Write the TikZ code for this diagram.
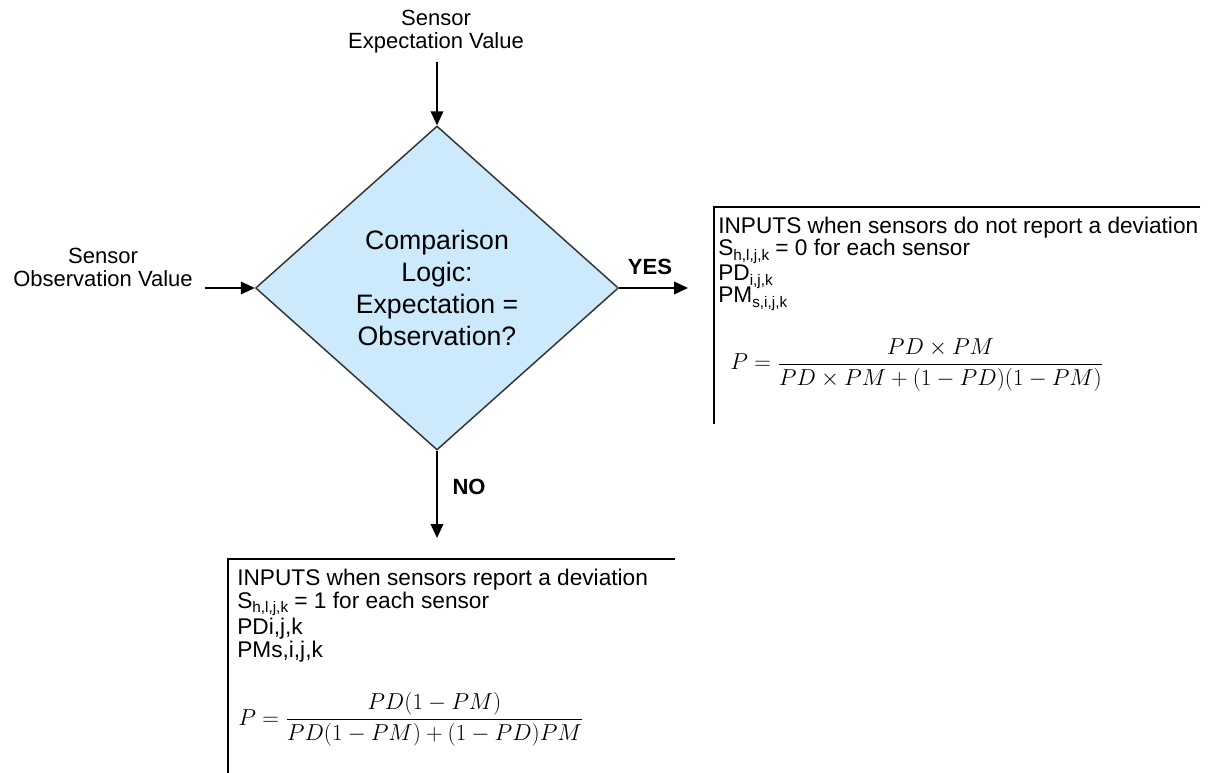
\documentclass[tikz,border=0pt]{standalone}
\usepackage{fontspec}
\setmainfont{Liberation Sans}
\usetikzlibrary{shapes.geometric,arrows.meta}
\definecolor{dfill}{RGB}{204,234,252}
% index set below the line, as in S_{h,l,j,k}
\newcommand\lowidx[1]{\raisebox{-0.2em}{\fontsize{11.5}{12}\selectfont #1}}
\tikzset{
  flow/.style={line width=1.2pt, -{Triangle[length=10.5pt,width=9.5pt]}},
  decision/.style={diamond, draw=black!80, line width=1.1pt, fill=dfill,
    minimum width=272.25pt, minimum height=243pt, inner sep=0pt,
    align=center, font=\fontsize{20}{24}\selectfont},
  sensortext/.style={align=center, inner sep=0pt, font=\fontsize{16.5}{17.25}\selectfont},
  answer/.style={anchor=base, inner sep=0pt, font=\bfseries\fontsize{16.5}{20}\selectfont},
  boxline/.style={line width=1.1pt},
  boxtext/.style={anchor=base west, inner sep=0pt, font=\fontsize{17}{20}\selectfont},
  formula/.style={anchor=base west, inner sep=0pt, font=\fontsize{16.5}{20}\selectfont},
}
\begin{document}
\begin{tikzpicture}[x=0.75pt,y=-0.75pt]
  \useasboundingbox (0,0) rectangle (1221,773);

  % decision
  \node[decision] (d) at (437,288) {Comparison\\Logic:\\Expectation =\\Observation?};

  % inputs
  \node[sensortext] (expl) at (436,32) {Sensor\\Expectation Value};
  \node[sensortext] (obsl) at (103,267) {Sensor\\Observation Value};
  \draw[flow] (d.north |- expl.south) ++(0,8) -- (d.north);
  \draw[flow] ([xshift=9pt]obsl.east |- d.west) -- (d.west);

  % outcomes
  \coordinate (yesend) at (688,288);
  \coordinate (noend) at (437,538);
  \draw[flow] (d.east) -- (yesend);
  \draw[flow] (d.south) -- (noend);
  \node[answer] (yes) at (650,275) {YES};
  \node[answer] (no) at (469,494) {NO};

  % YES branch inputs
  \draw[boxline] (1200,207) -- (714,207) -- (714,424);
  \node[boxtext] (y1) at (718,234) {INPUTS when sensors do not report a deviation};
  \node[boxtext] (y2) at (718,256) {S\lowidx{h,l,j,k} = 0 for each sensor};
  \node[boxtext] (y3) at (718,281) {PD\lowidx{i,j,k}};
  \node[boxtext] (y4) at (718,303) {PM\lowidx{s,i,j,k}};
  \node[formula] (yf) at (730,370)
    {$\displaystyle P=\frac{PD\times PM}{PD\times PM+\bigl(1-PD\bigr)\bigl(1-PM\bigr)}$};

  % NO branch inputs
  \draw[boxline] (675,559) -- (228,559) -- (228,775);
  \node[boxtext] (n1) at (237,585) {INPUTS when sensors report a deviation};
  \node[boxtext] (n2) at (237,608) {S\lowidx{h,l,j,k} = 1 for each sensor};
  \node[boxtext] (n3) at (237,634) {PDi,j,k};
  \node[boxtext] (n4) at (237,657) {PMs,i,j,k};
  \node[formula] (nf) at (238,725)
    {$\displaystyle P=\frac{PD\bigl(1-PM\bigr)}{PD\bigl(1-PM\bigr)+\bigl(1-PD\bigr)PM}$};
\end{tikzpicture}
\end{document}
